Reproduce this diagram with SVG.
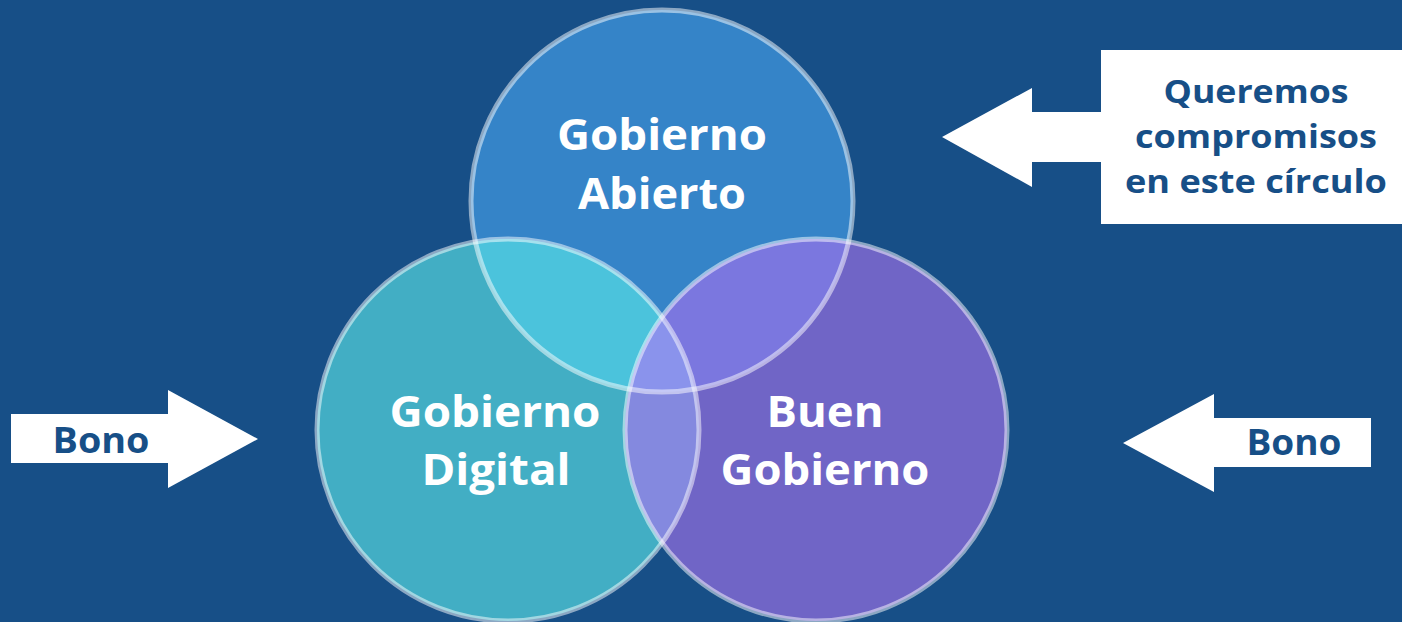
<svg xmlns="http://www.w3.org/2000/svg" width="1402" height="622" viewBox="0 0 1402 622">
<style>
.lbl{font-family:"Open Sans","Liberation Sans",sans-serif;font-weight:700;fill:#ffffff;text-anchor:middle}
.dark{font-family:"Open Sans","Liberation Sans",sans-serif;font-weight:700;fill:#174F87;text-anchor:middle}
.ring{fill:none;stroke:#ffffff;stroke-opacity:0.5;stroke-width:5}
.arrow{fill:#ffffff}
</style>
<defs>
<clipPath id="cT"><circle cx="662" cy="201" r="191"/></clipPath>
<clipPath id="cL"><circle cx="508" cy="430" r="191"/></clipPath>
<clipPath id="cR"><circle cx="816" cy="430" r="191"/></clipPath>
</defs>
<rect width="1402" height="622" fill="#174F87"/>
<g id="venn">
<circle cx="662" cy="201" r="191" fill="#3584C8"/>
<circle cx="508" cy="430" r="191" fill="#42AEC4"/>
<circle cx="816" cy="430" r="191" fill="#7065C6"/>
<circle cx="662" cy="201" r="191" fill="#4BC3DC" clip-path="url(#cL)"/>
<circle cx="662" cy="201" r="191" fill="#7B77DF" clip-path="url(#cR)"/>
<circle cx="508" cy="430" r="191" fill="#8489DF" clip-path="url(#cR)"/>
<g clip-path="url(#cT)"><circle cx="508" cy="430" r="191" fill="#8A93EC" clip-path="url(#cR)"/></g>
<circle class="ring" cx="662" cy="201" r="191"/>
<circle class="ring" cx="508" cy="430" r="191"/>
<circle class="ring" cx="816" cy="430" r="191"/>
</g>
<g id="abierto">
<text class="lbl" x="662" y="150" font-size="43" textLength="210" lengthAdjust="spacingAndGlyphs">Gobierno</text>
<text class="lbl" x="662" y="209" font-size="43" textLength="168" lengthAdjust="spacingAndGlyphs">Abierto</text>
</g>
<g id="digital">
<text class="lbl" x="495" y="427" font-size="43" textLength="211" lengthAdjust="spacingAndGlyphs">Gobierno</text>
<text class="lbl" x="496" y="485" font-size="43" textLength="149" lengthAdjust="spacingAndGlyphs">Digital</text>
</g>
<g id="buen">
<text class="lbl" x="825" y="427" font-size="43" textLength="117" lengthAdjust="spacingAndGlyphs">Buen</text>
<text class="lbl" x="825" y="485" font-size="43" textLength="209" lengthAdjust="spacingAndGlyphs">Gobierno</text>
</g>
<g id="connectors">
<polygon class="arrow" points="1101,112 1032,112 1032,88 942,137 1032,187 1032,162 1101,162"/>
<polygon class="arrow" points="11,414 168,414 168,390 258,439 168,488 168,463 11,463"/>
<polygon class="arrow" points="1371,418 1214,418 1214,394 1123,443 1214,492 1214,467 1371,467"/>
</g>
<g id="note">
<rect x="1101" y="50" width="301" height="174" fill="#ffffff"/>
<text class="dark" x="1256" y="103" font-size="32" textLength="185" lengthAdjust="spacingAndGlyphs">Queremos</text>
<text class="dark" x="1256" y="148" font-size="32" textLength="242" lengthAdjust="spacingAndGlyphs">compromisos</text>
<text class="dark" x="1256" y="193" font-size="32" textLength="262" lengthAdjust="spacingAndGlyphs">en este círculo</text>
</g>
<g id="bono-left">
<text class="dark" x="101" y="453" font-size="35" textLength="97" lengthAdjust="spacingAndGlyphs">Bono</text>
</g>
<g id="bono-right">
<text class="dark" x="1294" y="455" font-size="35" textLength="95" lengthAdjust="spacingAndGlyphs">Bono</text>
</g>
</svg>
